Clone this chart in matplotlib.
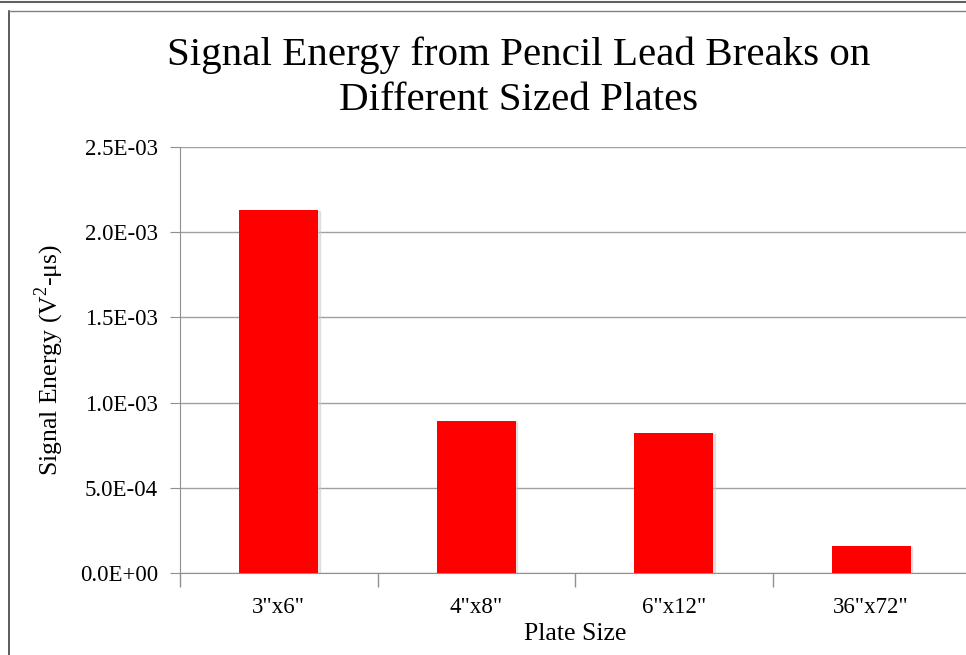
import matplotlib
matplotlib.use("Agg")
import matplotlib.pyplot as plt
from matplotlib.ticker import FuncFormatter, MultipleLocator
from matplotlib.patches import Rectangle
import numpy as np

categories = ['3"x6"', '4"x8"', '6"x12"', '36"x72"']
values = [2.13e-3, 0.892e-3, 0.822e-3, 0.158e-3]
title = "Signal Energy from Pencil Lead Breaks on\nDifferent Sized Plates"
xlabel = "Plate Size"
ylabel = "Signal Energy (V$^2$-\u03bcs)"

plt.rcParams['font.family'] = ['Liberation Serif', 'DejaVu Serif']
plt.rcParams['mathtext.fontset'] = 'custom'
plt.rcParams['mathtext.rm'] = 'Liberation Serif'

W, H = 966, 655
fig = plt.figure(figsize=(W/100, H/100), dpi=100)

# chart frame lines (Excel chart area border)
fig.add_artist(plt.Line2D([9/W, 9/W], [0, 1 - 11/H], color='#404040', lw=1.2, transform=fig.transFigure))
fig.add_artist(plt.Line2D([9/W, 1], [1 - 11/H, 1 - 11/H], color='#808080', lw=1.0, transform=fig.transFigure))
fig.add_artist(plt.Line2D([0, 1], [1 - 2/H, 1 - 2/H], color='#606060', lw=1.5, transform=fig.transFigure))

left, right, top, bottom = 180, 970, 147, 573
ax = fig.add_axes([left/W, 1 - bottom/H, (right-left)/W, (bottom-top)/H])

x = np.arange(len(categories))
bars = ax.bar(x, values, width=0.4, color='#ff0000', zorder=3)
# subtle shadow
for b in bars:
    ax.add_patch(Rectangle((b.get_x() + 0.008, 0), b.get_width(), b.get_height() - 0.000008,
                           color='#cccccc', alpha=0.5, zorder=2))

ax.set_xlim(-0.5, len(categories) - 0.5)
ax.set_ylim(0, 2.5e-3)
ax.yaxis.set_major_locator(MultipleLocator(0.5e-3))
ax.yaxis.set_major_formatter(FuncFormatter(lambda v, p: "%.1E" % v))
ax.grid(axis='y', color='#a0a0a0', lw=1.0, zorder=0)

ax.set_xticks(x)
ax.set_xticklabels(categories, fontsize=16.5)
ax.tick_params(axis='x', length=0, pad=17)
ax.set_xticks(np.arange(len(categories) + 1) - 0.5, minor=True)
ax.tick_params(axis='x', which='minor', length=10, color='#909090', width=1)
ax.tick_params(axis='y', length=7, color='#909090', labelsize=16.5, pad=9)

for s in ['top', 'right']:
    ax.spines[s].set_visible(False)
ax.spines['left'].set_color('#909090')
ax.spines['bottom'].set_color('#909090')

ax.set_xlabel(xlabel, fontsize=18.5, labelpad=4)
ax.set_ylabel(ylabel, fontsize=18.5, labelpad=10)
fig.text(519/W, 1 - 78/H, title, ha='center', va='center', fontsize=29.5, linespacing=1.3)

fig.savefig("out.png", dpi=100)
